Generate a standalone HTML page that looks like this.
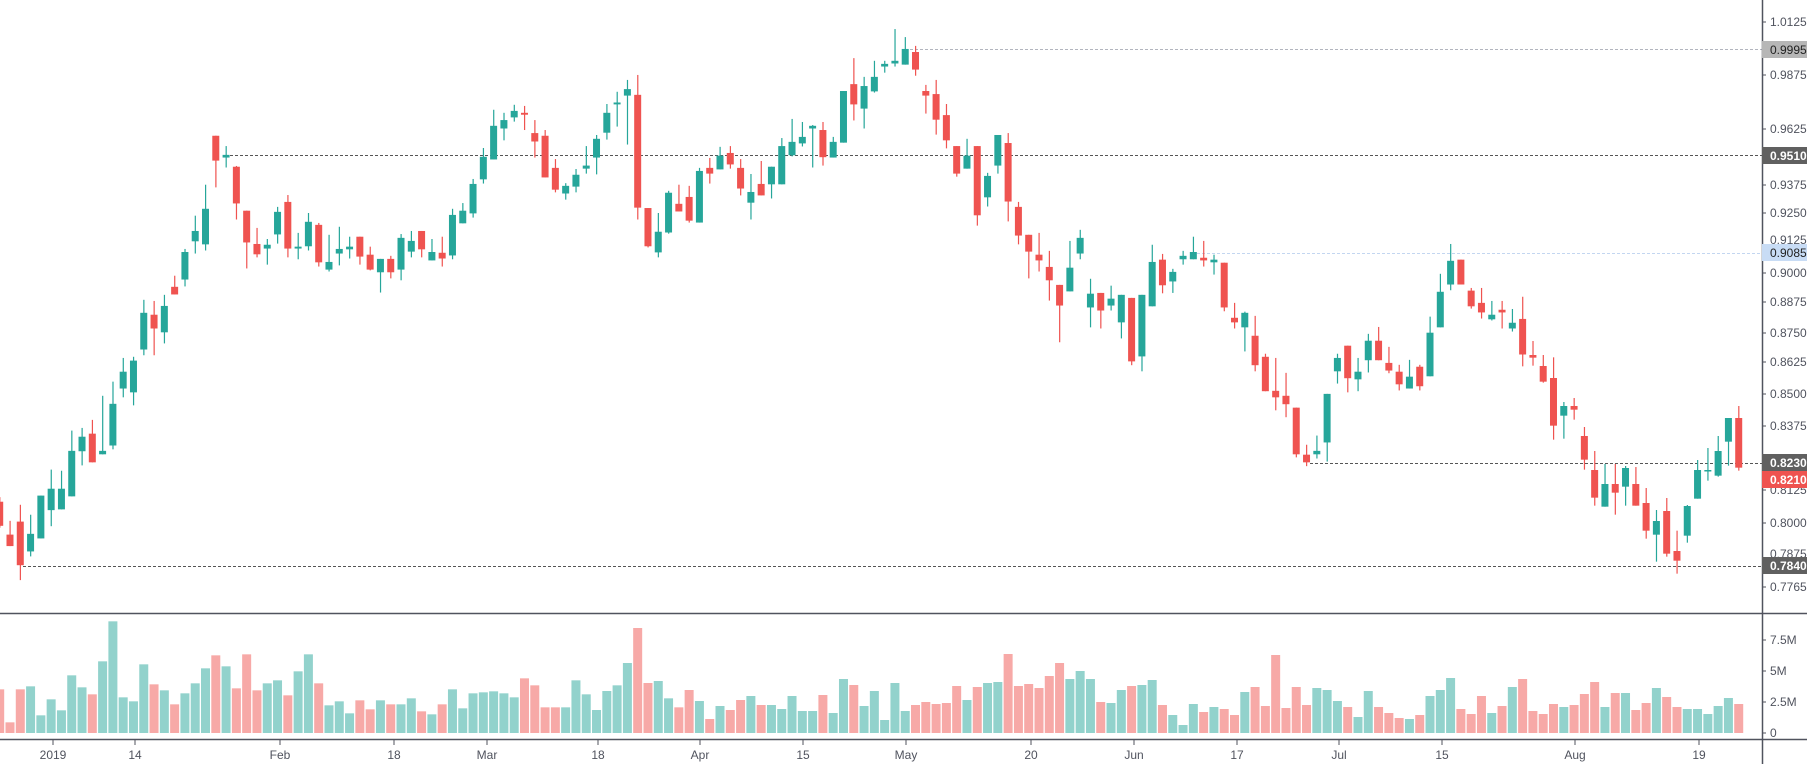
<!DOCTYPE html>
<html><head><meta charset="utf-8"><style>
html,body{margin:0;padding:0;background:#fff;}
svg{display:block;font-family:"Liberation Sans",sans-serif;}
</style></head><body>
<svg id="c" width="1807" height="764" viewBox="0 0 1807 764" xmlns="http://www.w3.org/2000/svg">
<rect width="1807" height="764" fill="#fff"/>
<g id="vol"></g>
<g id="lines">
<line x1="905" y1="49.5" x2="1762" y2="49.5" stroke="#b2b5be" stroke-dasharray="3,2"/>
<line x1="230" y1="155.5" x2="1762" y2="155.5" stroke="#555" stroke-dasharray="3,2"/>
<line x1="1197" y1="253.5" x2="1762" y2="253.5" stroke="#c3d6f0" stroke-dasharray="3,2"/>
<line x1="1310" y1="463.5" x2="1762" y2="463.5" stroke="#555" stroke-dasharray="3,2"/>
<line x1="23" y1="566.5" x2="1762" y2="566.5" stroke="#555" stroke-dasharray="3,2"/>
</g>
<g id="cand"></g>
<line x1="0" y1="613.5" x2="1807" y2="613.5" stroke="#50535e" stroke-width="1.5"/>
<line x1="0" y1="739.5" x2="1807" y2="739.5" stroke="#50535e" stroke-width="1.5"/>
<line x1="1762.5" y1="0" x2="1762.5" y2="764" stroke="#50535e" stroke-width="1.5"/>
<g font-size="12" fill="#50535e" id="plab">
<text x="1770" y="26">1.0125</text>
<text x="1770" y="79">0.9875</text>
<text x="1770" y="133">0.9625</text>
<text x="1770" y="189">0.9375</text>
<text x="1770" y="217">0.9250</text>
<text x="1770" y="244">0.9125</text>
<text x="1770" y="277">0.9000</text>
<text x="1770" y="306">0.8875</text>
<text x="1770" y="337">0.8750</text>
<text x="1770" y="366">0.8625</text>
<text x="1770" y="398">0.8500</text>
<text x="1770" y="430">0.8375</text>
<text x="1770" y="494">0.8125</text>
<text x="1770" y="527">0.8000</text>
<text x="1770" y="558">0.7875</text>
<text x="1770" y="591">0.7765</text>
</g>
<g stroke="#50535e">
<line x1="1762" y1="22" x2="1766" y2="22"/><line x1="1762" y1="75" x2="1766" y2="75"/>
<line x1="1762" y1="129" x2="1766" y2="129"/><line x1="1762" y1="185" x2="1766" y2="185"/>
<line x1="1762" y1="213" x2="1766" y2="213"/><line x1="1762" y1="273" x2="1766" y2="273"/>
<line x1="1762" y1="302" x2="1766" y2="302"/><line x1="1762" y1="333" x2="1766" y2="333"/>
<line x1="1762" y1="362" x2="1766" y2="362"/><line x1="1762" y1="394" x2="1766" y2="394"/>
<line x1="1762" y1="426" x2="1766" y2="426"/><line x1="1762" y1="490" x2="1766" y2="490"/>
<line x1="1762" y1="523" x2="1766" y2="523"/><line x1="1762" y1="587" x2="1766" y2="587"/>
</g>
<rect x="1762" y="41" width="45" height="17" fill="#b6b6b6"/>
<text x="1770" y="54" font-size="12" fill="#222">0.9995</text>
<rect x="1762" y="147" width="45" height="17" fill="#606060"/>
<text x="1770" y="160" font-size="12" fill="#fff" font-weight="bold">0.9510</text>
<rect x="1762" y="244" width="45" height="17" fill="#c8dcf5"/>
<text x="1770" y="257" font-size="12" fill="#222">0.9085</text>
<rect x="1762" y="454" width="45" height="17" fill="#606060"/>
<text x="1770" y="467" font-size="12" fill="#fff" font-weight="bold">0.8230</text>
<rect x="1762" y="471" width="45" height="17" fill="#ef5350"/>
<text x="1770" y="484" font-size="12" fill="#fff" font-weight="bold">0.8210</text>
<rect x="1762" y="557" width="45" height="17" fill="#606060"/>
<text x="1770" y="570" font-size="12" fill="#fff" font-weight="bold">0.7840</text>
<g font-size="12" fill="#50535e">
<text x="1770" y="644">7.5M</text><text x="1770" y="675">5M</text>
<text x="1770" y="706">2.5M</text><text x="1770" y="737">0</text>
</g>
<g stroke="#50535e">
<line x1="1762" y1="640" x2="1766" y2="640"/><line x1="1762" y1="671" x2="1766" y2="671"/>
<line x1="1762" y1="702" x2="1766" y2="702"/><line x1="1762" y1="733" x2="1766" y2="733"/>
</g>
<g font-size="12" fill="#50535e" text-anchor="middle" id="dlab">
<text x="53" y="759">2019</text><text x="135" y="759">14</text><text x="280" y="759">Feb</text>
<text x="394" y="759">18</text><text x="487" y="759">Mar</text><text x="598" y="759">18</text>
<text x="700" y="759">Apr</text><text x="803" y="759">15</text><text x="906" y="759">May</text>
<text x="1031" y="759">20</text><text x="1134" y="759">Jun</text><text x="1237" y="759">17</text>
<text x="1339" y="759">Jul</text><text x="1442" y="759">15</text><text x="1575" y="759">Aug</text>
<text x="1699" y="759">19</text>
</g>
<g stroke="#50535e" id="dticks"></g>
</svg>
<script>
var A=[[1300,1312,1375,1380,0],[1362,1398,1428,1428,0],[1320,1364,1478,1517,0],[1346,1396,1442,1455,1],[1296,1296,1408,1408,1],[1228,1278,1334,1376,1],[1231,1278,1332,1332,1],[1126,1179,1298,1298,1],[1119,1142,1180,1217,1],[1098,1134,1209,1209,0],
[1035,1179,1188,1188,1],[998,1056,1165,1175,1],[936,972,1016,1039,1],[933,943,1026,1060,1],[784,818,914,929,1],[787,823,859,929,0],[771,800,869,898,1],[721,750,770,770,0],[651,659,731,749,1],[564,604,631,663,1],
[483,546,639,655,1],[355,355,420,490,0],[382,405,412,438,1],[434,436,532,574,0],[551,551,634,702,0],[596,638,665,673,0],[625,640,650,692,1],[541,554,613,637,1],[510,528,650,673,0],[609,645,650,678,1],
[557,580,644,655,1],[583,588,686,697,0],[614,685,705,710,1],[593,651,663,694,1],[619,645,652,676,1],[619,619,671,692,0],[645,666,705,707,0],[677,677,712,765,1],[669,677,712,728,0],[612,622,705,733,1],
[604,630,658,673,1],[604,604,652,673,0],[625,659,681,681,1],[619,661,676,697,0],[546,562,668,678,1],[531,551,584,584,1],[468,481,558,569,1],[387,410,469,480,1],[287,329,417,417,1],[295,314,336,367,1],
[274,290,307,318,1],[277,295,300,340,0],[314,348,370,412,0],[340,355,464,464,0],[416,439,496,503,0],[479,486,506,522,1],[442,457,488,503,1],[382,433,441,454,1],[353,363,412,456,1],[272,295,347,365,1],
[240,268,273,331,1],[209,233,250,378,1],[196,248,543,574,0],[544,544,644,647,0],[557,606,660,673,1],[499,504,608,611,1],[483,533,553,553,0],[486,515,577,582,0],[439,447,582,582,1],[413,439,454,480,0],
[384,407,443,443,1],[382,400,430,441,0],[416,439,493,511,0],[455,502,530,574,1],[421,481,511,511,0],[436,436,482,519,1],[361,382,482,482,1],[311,371,406,409,1],[319,358,375,383,1],[327,329,336,438,1],
[319,340,411,433,0],[358,371,412,412,1],[238,238,373,373,1],[152,220,273,315,0],[201,225,284,336,1],[159,201,239,242,1],[159,167,174,190,1],[76,159,166,174,1],[97,128,169,169,1],[120,136,182,198,0],
[222,238,250,297,0],[209,246,313,352,0],[272,301,367,388,0],[382,382,454,462,0],[363,407,441,441,1],[382,382,563,590,0],[452,460,516,540,1],[353,353,433,454,1],[348,374,527,579,0],[528,541,616,639,0],
[614,614,658,728,0],[609,666,681,710,0],[656,698,733,786,0],[745,745,799,895,0],[630,700,762,762,1],[601,622,663,678,1],[729,768,804,856,1],[766,766,812,859,0],[747,781,799,812,1],[771,771,843,885,1],
[779,779,945,955,0],[771,771,932,971,1],[640,685,801,801,1],[664,679,746,767,0],[703,711,736,766,1],[656,669,678,692,1],[619,659,678,678,1],[630,674,681,697,0],[666,679,686,718,1],[687,687,804,814,0],
[792,831,843,859,0],[815,818,856,919,1],[826,878,955,971,0],[925,933,1023,1023,0],[936,1022,1039,1073,0],[975,1035,1057,1091,0],[1066,1066,1188,1196,0],[1163,1189,1209,1219,0],[1139,1179,1188,1199,1],[1030,1030,1157,1207,1],
[925,936,971,1003,1],[904,904,989,1026,0],[936,972,992,1023,1],[873,891,942,974,1],[855,891,942,942,0],[907,949,969,976,0],[954,972,1005,1021,0],[941,985,1016,1016,1],[954,959,1010,1021,0],[828,870,984,984,1],
[716,763,856,856,1],[638,682,744,759,1],[679,679,744,744,0],[753,760,801,807,0],[753,792,817,833,0],[787,823,835,838,1],[787,810,817,859,0],[808,844,859,867,1],[776,834,927,958,0]];
var B=[[123,165,173,197,0],[165,198,245,248,0],[172,234,377,419,0],[306,318,347,416,1],[294,318,329,359,0],[381,408,479,509,0],[453,510,593,617,0],[492,552,620,620,1],[492,552,578,644,0],[498,504,560,617,1],
[501,552,617,617,0],[564,609,692,716,0],[630,663,704,785,1],[594,633,761,770,0],[692,753,782,821,0],[615,618,707,728,1],[480,510,596,596,1],[444,510,512,542,1],[408,453,527,530,1],[354,354,425,497,1],[318,354,503,512,0]];
var V1=[507,606,507,498,585,537,570,465,501,522,423,303,531,543,432,492,510,552,519,489,444,405,438,504,402,510,489,480,525,453,402,489,555,543,579,540,567,540,552,552,534,573,582,552,507,564,519,516,513,519,531,474,495,561,561,561,480,522];
var V2=[329,272,255,188,83,248,242,294,321,269,302,356,317,329,299,287,314,314,326,287,332,332,284,338,236,254,317,272,359,248,332,314,305,311,308,257,299,260,248,245,161,257,251,263,227,188,236,212,236,305,308,269,257,254,239,314,344,374];
var V3=[311,335,320,326,344,275,260,317,164,323,260,314,263,269,302,320,350,272,320,338,353,356,344,287,269,233,326,341,287,338,317,260,236,332,341,311,320,314,281,245,320,278,278,329,308,263,290,320,326,326,341,317,293,311];
var vol=[];
V1.forEach(function(t){vol.push((638-t)/3);});
V2.forEach(function(t){vol.push((398-t)/3);});
V3.forEach(function(t){vol.push((398-t)/3);});
var S=2.615,sp=10.29,ns="http://www.w3.org/2000/svg";
var cg=document.getElementById('cand'),vg=document.getElementById('vol');
function el(g,t,a){var e=document.createElementNS(ns,t);for(var k in a)e.setAttribute(k,a[k]);g.appendChild(e);return e;}
var C=[];
A.forEach(function(d){C.push([d[0]/S,d[1]/S,d[2]/S,d[3]/S,d[4]]);});
B.forEach(function(d){C.push([300+d[0]/3,300+d[1]/3,300+d[2]/3,300+d[3]/3,d[4]]);});
C.forEach(function(d,i){
 var x=i*sp-0.3,col=d[4]?'#26a69a':'#ef5350';
 el(cg,'rect',{x:x-0.5,y:d[0],width:1.2,height:Math.max(1,d[3]-d[0]),fill:col});
 el(cg,'rect',{x:x-3.5,y:d[1],width:7,height:Math.max(1.5,d[2]-d[1]),fill:col});
 var h=vol[i]; if(h!==undefined){
  el(vg,'rect',{x:x-4.5,y:733-h,width:9,height:h,fill:d[4]?'#92d2cc':'#f7a9a7'});}
});
var tg=document.getElementById('dticks');
[53,135,280,394,487,598,700,803,906,1031,1134,1237,1339,1442,1575,1699].forEach(function(x){el(tg,'line',{x1:x,y1:740,x2:x,y2:745});});
</script>
</body></html>
